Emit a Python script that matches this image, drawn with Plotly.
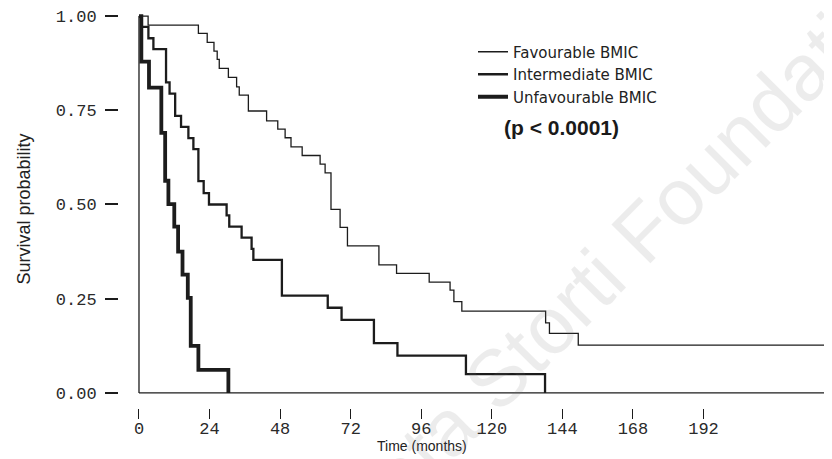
import plotly.graph_objects as go

# ---------------- data ----------------
fav_time = [0, 3.1, 20.2, 23.2, 25.5, 26.6, 27.3, 30.4, 33.2, 34.1, 37.2, 43.4, 47.2,
            49.7, 51.7, 55.5, 61.6, 63.3, 65.3, 68.4, 70.9, 81.6, 87.6, 98.7, 105.8,
            107.1, 109.8, 138.3, 139.6, 149.4, 236]
fav_surv = [1.0, 0.976, 0.954, 0.930, 0.907, 0.885, 0.861, 0.837, 0.812, 0.790, 0.748,
            0.722, 0.700, 0.677, 0.653, 0.630, 0.607, 0.584, 0.487, 0.439, 0.390, 0.340,
            0.317, 0.294, 0.273, 0.242, 0.217, 0.186, 0.158, 0.127, 0.127]

int_time = [0, 0.9, 3.2, 4.9, 9.2, 10.4, 12.3, 14.3, 16.8, 18.5, 20.2, 22.0, 23.8,
            29.8, 30.7, 34.9, 38.3, 38.9, 48.6, 64.2, 68.9, 79.9, 87.9, 111.2, 138.1]
int_surv = [1.0, 0.971, 0.941, 0.912, 0.824, 0.794, 0.735, 0.706, 0.676, 0.647, 0.562,
            0.530, 0.500, 0.471, 0.441, 0.412, 0.382, 0.353, 0.258, 0.226, 0.194, 0.132,
            0.099, 0.050, 0.0]

unf_time = [0, 0.8, 3.4, 7.6, 8.9, 10.0, 12.0, 13.3, 14.8, 16.6, 17.6, 20.2, 30.4]
unf_surv = [1.0, 0.879, 0.810, 0.690, 0.563, 0.501, 0.441, 0.375, 0.314, 0.252, 0.125,
            0.061, 0.0]

group_names = ["Favourable BMIC", "Intermediate BMIC", "Unfavourable BMIC"]
x_ticks = [0, 24, 48, 72, 96, 120, 144, 168, 192]
y_ticks = [0.0, 0.25, 0.50, 0.75, 1.00]
y_ticklabels = ["0.00", "0.25", "0.50", "0.75", "1.00"]
p_text = "(p < 0.0001)"

# ---------------- figure ----------------
# The page body has an 8 px margin, so the figure is 8 px smaller and its
# margins are 8 px smaller on the left/top to line up with the reference.
ink = "#1c1c1c"
fig = go.Figure()
for name, t, s, w in zip(group_names,
                         [fav_time, int_time, unf_time],
                         [fav_surv, int_surv, unf_surv],
                         [1.3, 2.3, 3.8]):
    fig.add_trace(go.Scatter(x=t, y=s, mode="lines", name=name,
                             line=dict(shape="hv", color=ink, width=w)))

# axis lines (L-shaped, starting at t = 0)
fig.add_shape(type="line", xref="x", yref="y", x0=0, x1=0, y0=0, y1=1.0,
              line=dict(color=ink, width=1.3), layer="below")
fig.add_shape(type="line", xref="x", yref="y", x0=0, x1=236, y0=0, y1=0,
              line=dict(color=ink, width=1.3), layer="below")

tick_font = dict(family="Liberation Mono", size=17, color="#2a2a2a")


def px(xp):
    return (xp - 119) / 713


def py(yp):
    return (408 - yp) / 398


fig.update_layout(
    width=824, height=451,
    margin=dict(l=111, r=0, t=2, b=51, autoexpand=False),
    paper_bgcolor="white", plot_bgcolor="white",
    showlegend=True,
    legend=dict(x=px(465 + 8), y=py(35.5), xanchor="left", yanchor="top",
                bgcolor="rgba(0,0,0,0)", borderwidth=0, tracegroupgap=0,
                font=dict(family="DejaVu Sans", size=15, color="#222")),
    xaxis=dict(range=[-6.8, 235.7], tickvals=x_ticks, ticks="outside", ticklen=10,
               tickwidth=1.2, tickcolor=ink, showgrid=False, zeroline=False,
               showline=False, tickfont=tick_font, automargin=False,
               ticklabelstandoff=-5, ticklabeloverflow="allow"),
    yaxis=dict(range=[-0.040, 1.016], tickvals=y_ticks, ticktext=y_ticklabels,
               ticks="outside", ticklen=13, tickwidth=1.5, tickcolor=ink,
               showgrid=False, zeroline=False, showline=False, tickfont=tick_font,
               automargin=False, ticklabelstandoff=5, ticklabeloverflow="allow",
               title=dict(text="Survival probability", standoff=20,
                          font=dict(family="Liberation Sans", size=18, color="#222"))),
)

# x-axis title (offset to the left as in the reference)
fig.add_annotation(text="Time (months)", xref="paper", yref="paper",
                   x=px(422), y=py(446), xanchor="center", yanchor="middle",
                   showarrow=False,
                   font=dict(family="Liberation Sans", size=14, color="#222"))

# p-value
fig.add_annotation(text="<b>" + p_text + "</b>", xref="paper", yref="paper",
                   x=px(561), y=py(128), xanchor="center", yanchor="middle",
                   showarrow=False,
                   font=dict(family="Liberation Sans", size=21, color="#1a1a1a"))

# faint publisher watermark
fig.add_annotation(text="Ferrata Storti Foundation", xref="paper", yref="paper",
                   x=px(594), y=py(280), xanchor="center", yanchor="middle",
                   showarrow=False, textangle=-45, opacity=0.13,
                   font=dict(family="Liberation Sans", size=80, color="#777"))

fig.write_html("out.html")
